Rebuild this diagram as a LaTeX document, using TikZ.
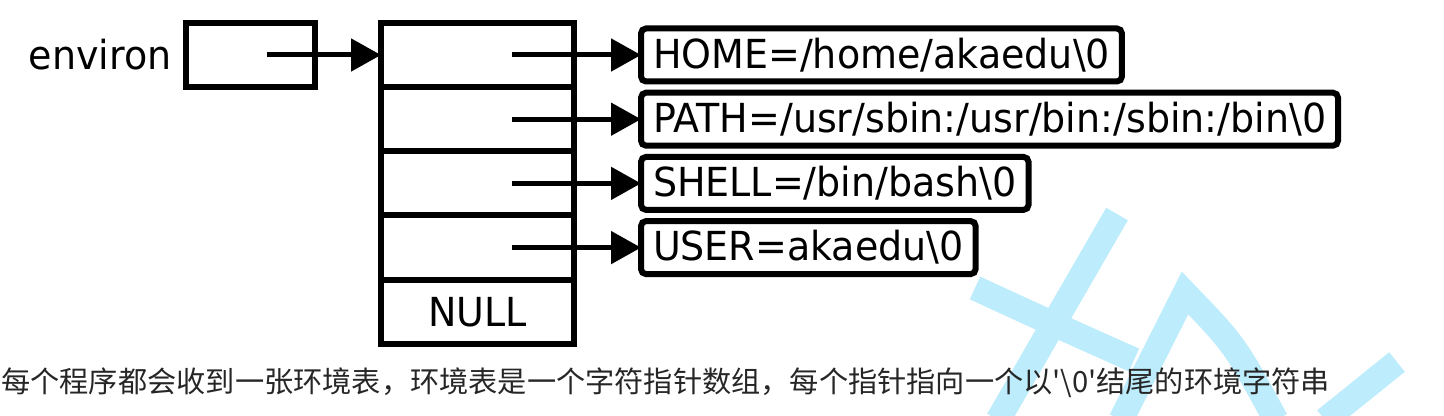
\documentclass[tikz,border=0pt]{standalone}
\usepackage{fontspec}
\setmainfont{DejaVu Sans}[FakeStretch=0.95]
\newfontfamily\cjkfont{Noto Sans CJK SC}
\usetikzlibrary{arrows.meta, positioning}
\definecolor{wmblue}{RGB}{189,236,252}

\begin{document}
\begin{tikzpicture}[
  x=0.5pt, y=-0.5pt,
  cell/.style={draw, line width=3pt, outer sep=0pt, minimum width=96.5pt, minimum height=32.1pt,
    font=\fontsize{20pt}{24pt}\selectfont},
  strbox/.style={draw, rounded corners=2.5pt, line width=3pt, outer sep=0pt, inner xsep=6pt,
    minimum height=26.5pt, font=\fontsize{20pt}{24pt}\selectfont},
  arrow/.style={-{Triangle[length=15pt, width=16pt]}, line width=2.5pt},
  wm/.style={line width=12.5pt, wmblue},
]
  \useasboundingbox (0,0) rectangle (1444,416);
  \draw[wm] (1117,214) -- (998,420);
  \draw[wm] (975,288) .. controls (1040,318) .. (1134,360);
  \draw[wm] (1121,420) -- (1185,293) .. controls (1235,345) .. (1276,420);
  \draw[wm] (1397,362) -- (1325,420);

  \node[cell] (cell1) at (477.5,55) {};
  \node[cell, below=0pt of cell1] (cell2) {};
  \node[cell, below=0pt of cell2] (cell3) {};
  \node[cell, below=0pt of cell3] (cell4) {};
  \node[cell, below=0pt of cell4] (null) {NULL};

  \node[cell, minimum width=64.5pt, left=33pt of cell1] (envbox) {};
  \node[left=7pt of envbox, inner sep=0pt, font=\fontsize{20pt}{24pt}\selectfont] (envlabel) {environ};

  \node[strbox, right=33.5pt of cell1] (home) {HOME=/home/akaedu\textbackslash0};
  \node[strbox, right=33.5pt of cell2] (path) {PATH=/usr/sbin:/usr/bin:/sbin:/bin\textbackslash0};
  \node[strbox, right=33.5pt of cell3] (shell) {SHELL=/bin/bash\textbackslash0};
  \node[strbox, right=33.5pt of cell4] (user) {USER=akaedu\textbackslash0};

  \draw[arrow] ([xshift=8.25pt]envbox.center) -- (cell1.west);
  \draw[arrow] ([xshift=17.25pt]cell1.center) -- (home.west);
  \draw[arrow] ([xshift=17.25pt]cell2.center) -- (path.west);
  \draw[arrow] ([xshift=17.25pt]cell3.center) -- (shell.west);
  \draw[arrow] ([xshift=17.25pt]cell4.center) -- (user.west);

  \node[anchor=west, inner sep=0pt, text=black!85, font=\cjkfont\fontsize{14.6pt}{18pt}\selectfont] (caption) at (1,383)
    {每个程序都会收到一张环境表，环境表是一个字符指针数组，每个指针指向一个以'\textbackslash0'结尾的环境字符串};
\end{tikzpicture}
\end{document}
